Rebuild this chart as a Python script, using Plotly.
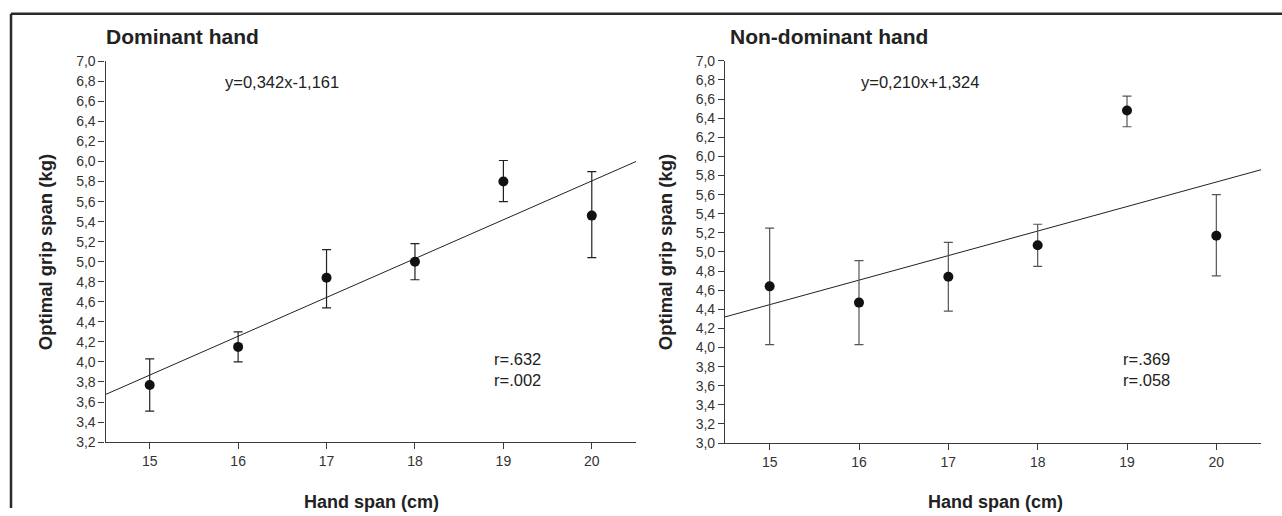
import plotly.graph_objects as go

# ---- data ----
hand_span = [15, 16, 17, 18, 19, 20]

dom_mean = [3.77, 4.15, 4.84, 5.00, 5.80, 5.46]
dom_upper = [4.03, 4.30, 5.12, 5.18, 6.01, 5.90]
dom_lower = [3.51, 4.00, 4.54, 4.82, 5.60, 5.04]

nondom_mean = [4.64, 4.47, 4.74, 5.07, 6.48, 5.17]
nondom_upper = [5.25, 4.91, 5.10, 5.29, 6.63, 5.60]
nondom_lower = [4.03, 4.03, 4.38, 4.85, 6.31, 4.75]

fit_x = [14.5, 20.5]
dom_fit_y = [3.675, 6.0]
nondom_fit_y = [4.32, 5.86]

dom_eq = "y=0,342x-1,161"
nondom_eq = "y=0,210x+1,324"
dom_r = ["r=.632", "r=.002"]
nondom_r = ["r=.369", "r=.058"]

FONT = "Arial, Liberation Sans, sans-serif"
AX = "#3a3a3a"
W, H = 1282, 516

fig = go.Figure()

def add_panel(mean, upper, lower, fit_y, xa, ya, ebcolor):
    fig.add_trace(go.Scatter(
        x=fit_x, y=fit_y, mode="lines", xaxis=xa, yaxis=ya,
        line=dict(color="#222222", width=1), showlegend=False, hoverinfo="skip"))
    fig.add_trace(go.Scatter(
        x=hand_span, y=mean, mode="markers", xaxis=xa, yaxis=ya,
        marker=dict(color="#111111", size=10),
        error_y=dict(type="data", symmetric=False,
                     array=[u - m for u, m in zip(upper, mean)],
                     arrayminus=[m - l for m, l in zip(mean, lower)],
                     color=ebcolor, thickness=1.2, width=4.5),
        showlegend=False))

add_panel(dom_mean, dom_upper, dom_lower, dom_fit_y, "x", "y", "#222222")
add_panel(nondom_mean, nondom_upper, nondom_lower, nondom_fit_y, "x2", "y2", "#555555")

common_x = dict(range=[14.5, 20.5], tickvals=hand_span, ticks="outside", ticklen=6,
                tickcolor=AX, showline=True, linecolor=AX, linewidth=1.2,
                showgrid=False, zeroline=False,
                tickfont=dict(family=FONT, size=14, color="#333333"))
common_y = dict(dtick=0.2, tickformat=".1f", ticks="outside", ticklen=6,
                tickcolor=AX, showline=True, linecolor=AX, linewidth=1.2,
                showgrid=False, zeroline=False,
                tickfont=dict(family=FONT, size=14, color="#333333"))

fig.update_layout(
    width=W, height=H,
    margin=dict(l=0, r=0, t=0, b=0),
    paper_bgcolor="white", plot_bgcolor="white",
    separators=",.",
    font=dict(family=FONT, color="#222222"),
    xaxis=dict(domain=[105.5 / W, 636 / W], anchor="y", **common_x),
    yaxis=dict(domain=[1 - 448 / H, 1 - 55 / H], anchor="x", range=[3.2, 7.0], **common_y),
    xaxis2=dict(domain=[725 / W, 1261 / W], anchor="y2", **common_x),
    yaxis2=dict(domain=[1 - 449 / H, 1 - 54.5 / H], anchor="x2", range=[3.0, 7.0], **common_y),
)

def pann(text, px, py, size, bold=False, anchor="left", angle=0):
    return dict(text=f"<b>{text}</b>" if bold else text, xref="paper", yref="paper",
                x=px / W, y=1 - py / H, xanchor=anchor, yanchor="middle",
                showarrow=False, textangle=angle,
                font=dict(family=FONT, size=size, color="#222222"))

ann = [
    pann("Dominant hand", 104, 29.5, 21, bold=True),
    pann("Non-dominant hand", 728, 29.5, 21, bold=True),
    pann("Optimal grip span (kg)", 45, 252, 18.5, bold=True, anchor="center", angle=-90),
    pann("Optimal grip span (kg)", 665, 252, 18.5, bold=True, anchor="center", angle=-90),
    pann("Hand span (cm)", 371, 510, 18, bold=True, anchor="center"),
    pann("Hand span (cm)", 995, 510, 18, bold=True, anchor="center"),
]
ann.append(dict(text=dom_eq, xref="x", yref="y", x=15.83, y=6.79, xanchor="left",
                yanchor="middle", showarrow=False, font=dict(family=FONT, size=16.5, color="#222222")))
ann.append(dict(text=nondom_eq, xref="x2", yref="y2", x=16.0, y=6.78, xanchor="left",
                yanchor="middle", showarrow=False, font=dict(family=FONT, size=16.5, color="#222222")))
for txt, yv in zip(dom_r, [4.03, 3.82]):
    ann.append(dict(text=txt, xref="x", yref="y", x=18.87, y=yv, xanchor="left",
                    yanchor="middle", showarrow=False, font=dict(family=FONT, size=16.5, color="#222222")))
for txt, yv in zip(nondom_r, [3.88, 3.66]):
    ann.append(dict(text=txt, xref="x2", yref="y2", x=18.93, y=yv, xanchor="left",
                    yanchor="middle", showarrow=False, font=dict(family=FONT, size=16.5, color="#222222")))
fig.update_layout(annotations=ann)

# outer frame (top and left rules)
fig.add_shape(type="line", xref="paper", yref="paper", x0=11 / W, x1=1.0,
              y0=1 - 6 / H, y1=1 - 6 / H, line=dict(color="#2a2a2a", width=2.5))
fig.add_shape(type="line", xref="paper", yref="paper", x0=11 / W, x1=11 / W,
              y0=0, y1=1 - 6 / H, line=dict(color="#2a2a2a", width=2.5))

fig.write_html("out.html",
               config={"displayModeBar": False},
               post_script="document.body.style.margin='0';document.body.style.overflow='hidden';")
